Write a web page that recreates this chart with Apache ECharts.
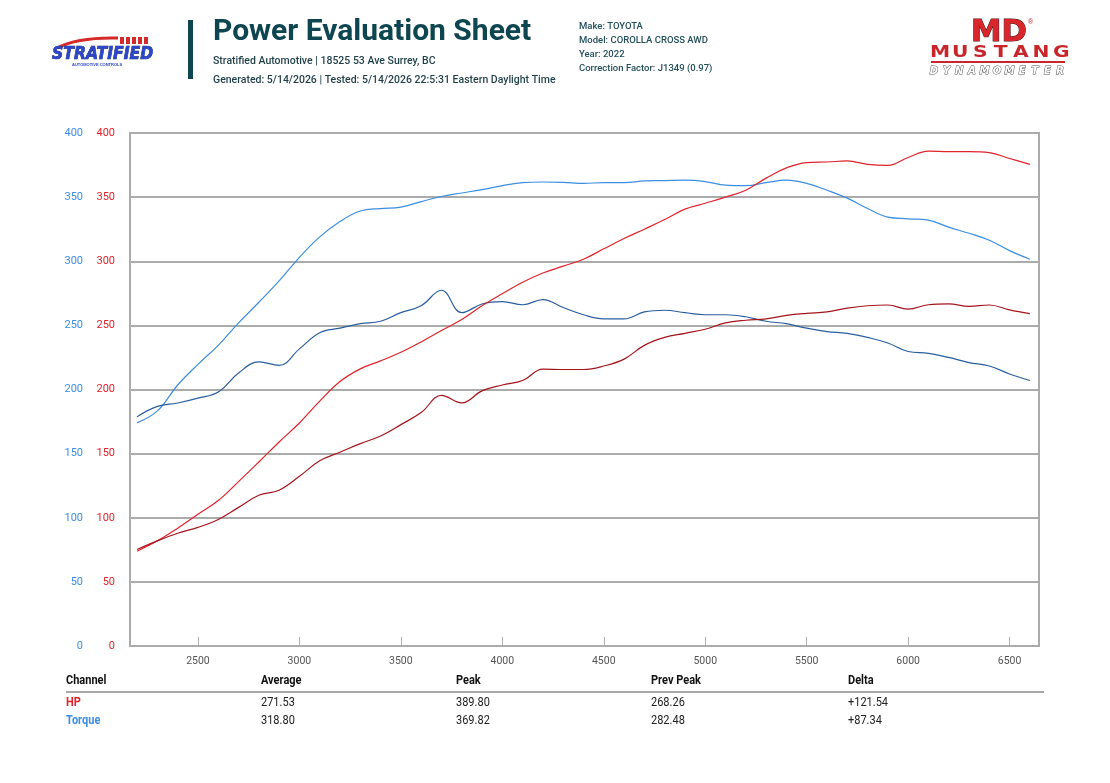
<!DOCTYPE html>
<html>
<head>
<meta charset="utf-8">
<script src="https://cdn.jsdelivr.net/npm/echarts@6/dist/echarts.min.js"></script>
<style>
  html, body { margin: 0; padding: 0; background: #fff; }
  #chart { width: 1110px; height: 783px; }
</style>
</head>
<body>
<div id="chart"></div>
<script>
// rpm steps used by all four runs
var rpm = [2200, 2300, 2400, 2500, 2600, 2700, 2800, 2900, 3000, 3100, 3200, 3300, 3400, 3500, 3600,
    3700, 3800, 3900, 4000, 4100, 4200, 4300, 4400, 4500, 4600, 4700, 4800, 4900, 5000, 5100,
    5200, 5300, 5400, 5500, 5600, 5700, 5800, 5900, 6000, 6100, 6200, 6300, 6400, 6500, 6600];

// torque, current run (light blue)
var torqueNow = [174, 183.3, 203.5, 219.6, 234.4, 251.9, 268, 284.7, 303, 319, 331, 339.2, 341.1, 342.2, 346.5,
    350.5, 353.2, 355.9, 358.9, 361.3, 361.8, 361.5, 360.7, 361.3, 361.3, 362.6, 362.9, 363.2, 362.1, 359.4,
    358.9, 361.3, 363.2, 360.7, 355.4, 349.2, 341.1, 334.4, 333.1, 332, 326.6, 321.8, 316.4, 308.3, 301.6];
// torque, previous run (dark blue)
var torquePrev = [178.8, 186.8, 189.5, 193.3, 198.1, 212.9, 221.5, 218.8, 231.7, 244.3, 247.8, 251.3, 253.2, 259.9, 265.3,
    277.4, 259.9, 266.7, 268.5, 266.1, 270.1, 263.9, 258.3, 255.1, 255.1, 260.5, 261.8, 259.9, 258.3, 258.3,
    256.7, 253.2, 251.3, 247.8, 245.2, 243.8, 240.6, 236.3, 229.6, 228.2, 225, 221, 218.3, 212.1, 207];
// hp, current run (bright red)
var hpNow = [73.9, 82, 91.9, 102.7, 113.4, 128.2, 143.5, 159.1, 173.9, 190.9, 206.2, 216.1, 222.3, 229, 237.1,
    246, 254.6, 265.3, 274.7, 283.6, 290.8, 296.2, 301.6, 309.7, 317.7, 325, 332.5, 340.6, 345.2, 350,
    355.4, 364.8, 372.8, 376.9, 377.4, 378.2, 375.5, 374.7, 380.9, 385.8, 385.5, 385.5, 384.7, 380.1, 375.5];
// hp, previous run (dark red)
var hpPrev = [75.3, 82, 87.9, 92.5, 98.7, 108.1, 117.5, 121.5, 132.3, 144.4, 151.1, 157.8, 163.7, 172.6, 182,
    195.4, 189.5, 198.9, 203.5, 207, 215.9, 215.6, 215.6, 218.3, 223.7, 234.4, 240.6, 243.8, 247, 251.9,
    254, 255.1, 257.8, 259.4, 260.5, 263.4, 265.3, 265.9, 262.6, 266.1, 266.7, 264.8, 265.9, 262.1, 259.1];

var rpmTicks = [2500, 3000, 3500, 4000, 4500, 5000, 5500, 6000, 6500];

// summary table
var tableHead = ['Channel', 'Average', 'Peak', 'Prev Peak', 'Delta'];
var channels = ['HP', 'Torque'];
var averages = ['271.53', '318.80'];
var peaks = ['389.80', '369.82'];
var prevPeaks = ['268.26', '282.48'];
var deltas = ['+121.54', '+87.34'];

var headerLines = ['Stratified Automotive | 18525 53 Ave Surrey, BC',
    'Generated: 5/14/2026 | Tested: 5/14/2026 22:5:31 Eastern Daylight Time'];
var vehicleLines = ['Make: TOYOTA', 'Model: COROLLA CROSS AWD', 'Year: 2022', 'Correction Factor: J1349 (0.97)'];

var BLUE_LIGHT = '#3c8ee2';
var BLUE_DARK = '#2a5f9f';
var RED_BRIGHT = '#e1232b';
var RED_DARK = '#a5151d';
var TEAL = '#0d4550';

function pairs(ys) {
    var out = [];
    for (var i = 0; i < rpm.length; i++) {
        out.push([rpm[i], ys[i]]);
    }
    return out;
}

var graphics = [];

// stratified logo (left)
graphics.push({
    type: 'bezierCurve',
    shape: { x1: 57, y1: 48, x2: 118, y2: 38, cpx1: 78, cpy1: 37 },
    style: { stroke: '#d42a2a', lineWidth: 3, fill: null }
});
for (var k = 0; k < 5; k++) {
    graphics.push({
        type: 'rect',
        shape: { x: 120 + k * 6, y: 37, width: 4, height: 7 },
        style: { fill: '#d42a2a' }
    });
}
graphics.push({
    type: 'text', x: 52, y: 46, scaleX: 0.92,
    style: { text: 'STRATIFIED', fill: '#2b46c8', stroke: '#142070', lineWidth: 0.7,
        font: 'italic 900 17px "DejaVu Sans", sans-serif' }
});
graphics.push({
    type: 'text', x: 72, y: 63,
    style: { text: 'AUTOMOTIVE CONTROLS', fill: '#2b46c8', font: 'bold 4px sans-serif' }
});

// divider bar
graphics.push({
    type: 'rect', shape: { x: 188, y: 20, width: 5, height: 59 }, style: { fill: TEAL }
});

// title and header lines
graphics.push({
    type: 'text', x: 213, y: 17,
    style: { text: 'Power Evaluation Sheet', fill: TEAL, font: 'bold 30px "Roboto", sans-serif' }
});
for (var h = 0; h < headerLines.length; h++) {
    graphics.push({
        type: 'text', x: 213, y: 56 + h * 19,
        style: { text: headerLines[h], fill: '#1f3f48', font: '500 10.5px "Roboto", sans-serif' }
    });
}
for (var v = 0; v < vehicleLines.length; v++) {
    graphics.push({
        type: 'text', x: 579, y: 22 + v * 14,
        style: { text: vehicleLines[v], fill: '#24505c', font: '500 9.5px "Roboto", sans-serif' }
    });
}

// mustang dynamometer logo (right)
graphics.push({
    type: 'text', x: 971, y: 18, scaleX: 1.02,
    style: { text: 'MD', fill: '#d8262c', stroke: '#4a0a0a', lineWidth: 1,
        font: '900 30px "DejaVu Sans", sans-serif' }
});
graphics.push({
    type: 'text', x: 1028, y: 19,
    style: { text: '®', fill: '#c9262c', font: '7px sans-serif' }
});
var mustang = 'MUSTANG';
for (var m = 0; m < mustang.length; m++) {
    graphics.push({
        type: 'text', x: 940 + m * 20.2, y: 53, scaleX: 1.35,
        style: { text: mustang[m], fill: '#c9262c', font: 'bold 15px "DejaVu Sans", sans-serif',
            align: 'center', verticalAlign: 'middle' }
    });
}
graphics.push({
    type: 'rect', shape: { x: 931, y: 61, width: 134, height: 2 }, style: { fill: '#c9262c' }
});
var dyno = 'DYNAMOMETER';
for (var d = 0; d < dyno.length; d++) {
    graphics.push({
        type: 'text', x: 934 + d * 12.6, y: 71,
        style: { text: dyno[d], fill: '#ffffff', stroke: '#555', lineWidth: 1,
            font: 'italic bold 10px "DejaVu Sans", sans-serif', align: 'center', verticalAlign: 'middle' }
    });
}

// summary table
var colX = [66, 261, 456, 651, 848];
for (var c = 0; c < tableHead.length; c++) {
    graphics.push({
        type: 'text', x: colX[c], y: 681, scaleX: 0.88,
        style: { text: tableHead[c], fill: '#111', font: 'bold 12.5px "Roboto", sans-serif', verticalAlign: 'middle' }
    });
}
graphics.push({
    type: 'rect', shape: { x: 66, y: 691, width: 978, height: 2 }, style: { fill: '#a8a8a8' }
});
var rowColors = [RED_BRIGHT, BLUE_LIGHT];
for (var r = 0; r < channels.length; r++) {
    var rowY = 703 + r * 18;
    var cells = [channels[r], averages[r], peaks[r], prevPeaks[r], deltas[r]];
    for (var c2 = 0; c2 < cells.length; c2++) {
        graphics.push({
            type: 'text', x: colX[c2], y: rowY, scaleX: 0.88,
            style: {
                text: cells[c2],
                fill: c2 === 0 ? rowColors[r] : '#222',
                font: (c2 === 0 ? 'bold ' : '') + '12.5px "Roboto", sans-serif',
                verticalAlign: 'middle'
            }
        });
    }
}

var myChart = echarts.init(document.getElementById('chart'));

var option = {
    backgroundColor: '#ffffff',
    animation: false,
    grid: {
        left: 130, right: 71, top: 133, bottom: 137,
        show: true, borderColor: '#ababab', borderWidth: 2, backgroundColor: 'transparent'
    },
    xAxis: {
        type: 'value',
        min: 2165,
        max: 6645,
        axisLine: { show: false },
        axisTick: {
            show: true, inside: true, length: 9,
            customValues: rpmTicks,
            lineStyle: { color: '#b0b0b0', width: 1 }
        },
        axisLabel: {
            customValues: rpmTicks,
            formatter: function (val) { return String(val); },
            color: '#555', fontSize: 10.5, fontFamily: 'Roboto', margin: 10
        },
        splitLine: { show: false }
    },
    yAxis: [
        {
            type: 'value', position: 'left', offset: 32,
            min: 0, max: 400, interval: 50,
            axisLine: { show: false }, axisTick: { show: false },
            axisLabel: { color: BLUE_LIGHT, fontSize: 11, fontFamily: 'Roboto', margin: 15 },
            splitLine: { show: true, lineStyle: { color: '#ababab', width: 2 } }
        },
        {
            type: 'value', position: 'left', offset: 0,
            min: 0, max: 400, interval: 50,
            axisLine: { show: false }, axisTick: { show: false },
            axisLabel: { color: RED_BRIGHT, fontSize: 11, fontFamily: 'Roboto', margin: 15 },
            splitLine: { show: false }
        }
    ],
    series: [
        {
            name: 'Torque', type: 'line', yAxisIndex: 0, data: pairs(torqueNow),
            smooth: 0.4, showSymbol: false, lineStyle: { color: BLUE_LIGHT, width: 1.2 }
        },
        {
            name: 'Torque Prev', type: 'line', yAxisIndex: 0, data: pairs(torquePrev),
            smooth: 0.4, showSymbol: false, lineStyle: { color: BLUE_DARK, width: 1.2 }
        },
        {
            name: 'HP', type: 'line', yAxisIndex: 1, data: pairs(hpNow),
            smooth: 0.4, showSymbol: false, lineStyle: { color: RED_BRIGHT, width: 1.2 }
        },
        {
            name: 'HP Prev', type: 'line', yAxisIndex: 1, data: pairs(hpPrev),
            smooth: 0.4, showSymbol: false, lineStyle: { color: RED_DARK, width: 1.2 }
        }
    ],
    graphic: graphics
};

myChart.setOption(option);
</script>
</body>
</html>
